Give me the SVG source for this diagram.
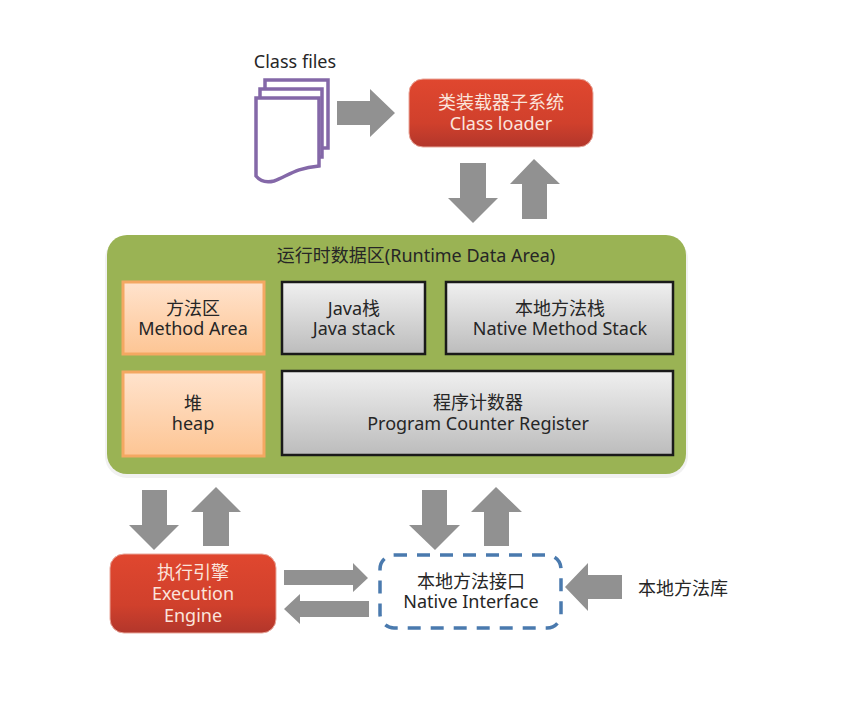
<svg xmlns="http://www.w3.org/2000/svg" width="850" height="714" viewBox="0 0 850 714">
<style>
text{font-family:"Noto Sans","Noto Sans CJK SC",sans-serif;font-size:18px;text-anchor:middle;fill:#262626}
text.w{fill:#fbe4dc}
.arrow{fill:#919191}
.doc{fill:#fff;stroke:#8468a8;stroke-width:3.5}
.red{fill:url(#red);stroke:#e8a79b;stroke-width:1}
.org{fill:url(#org);stroke:#f4a862;stroke-width:3}
.gry{fill:url(#gry);stroke:#1a1a1a;stroke-width:2.5}
</style>
<defs>
<linearGradient id="red" x1="0" y1="0" x2="0" y2="1"><stop offset="0" stop-color="#e0472f"/><stop offset="0.65" stop-color="#d0402c"/><stop offset="1" stop-color="#b2362b"/></linearGradient>
<linearGradient id="org" x1="0" y1="0" x2="0" y2="1"><stop offset="0" stop-color="#ffe3cd"/><stop offset="1" stop-color="#fdc594"/></linearGradient>
<linearGradient id="gry" x1="0" y1="0" x2="0" y2="1"><stop offset="0" stop-color="#f0f0f0"/><stop offset="1" stop-color="#bcbcbc"/></linearGradient>
</defs>
<rect width="850" height="714" fill="#fff"/>
<g id="class-files">
<text x="295" y="68">Class files</text>
<path class="doc" d="M265 80H328V148H265Z"/>
<path class="doc" d="M260 89H322V157H260Z"/>
<path class="doc" d="M256 98H319V166C295 168 288 176 274 181C266 183 260 181 256 176Z"/>
</g>
<g id="class-loader">
<rect class="red" x="409" y="79" width="184" height="68" rx="14"/>
<text class="w" y="109"><tspan x="501">类装载器子系统</tspan><tspan x="501" dy="21">Class loader</tspan></text>
</g>
<g id="runtime-data-area">
<rect x="105" y="237" width="583" height="241" rx="22" fill="#f1f1f1"/>
<rect x="107" y="235" width="579" height="239" rx="20" fill="#9ab354"/>
<text x="416" y="262">运行时数据区(Runtime Data Area)</text>
</g>
<g id="method-area">
<rect class="org" x="123" y="282" width="141" height="72"/>
<text y="315"><tspan x="193">方法区</tspan><tspan x="193" dy="20">Method Area</tspan></text>
</g>
<g id="heap">
<rect class="org" x="123" y="372" width="141" height="84"/>
<text y="410"><tspan x="193">堆</tspan><tspan x="193" dy="20">heap</tspan></text>
</g>
<g id="java-stack">
<rect class="gry" x="282" y="282" width="143" height="72"/>
<text y="315"><tspan x="354">Java栈</tspan><tspan x="354" dy="20">Java stack</tspan></text>
</g>
<g id="native-method-stack">
<rect class="gry" x="446" y="282" width="227" height="72"/>
<text y="315"><tspan x="560">本地方法栈</tspan><tspan x="560" dy="20">Native Method Stack</tspan></text>
</g>
<g id="program-counter">
<rect class="gry" x="282" y="371" width="391" height="84"/>
<text y="409"><tspan x="478">程序计数器</tspan><tspan x="478" dy="21">Program Counter Register</tspan></text>
</g>
<g id="execution-engine">
<rect class="red" x="110" y="554" width="166" height="79" rx="14"/>
<text class="w" y="579"><tspan x="193">执行引擎</tspan><tspan x="193" dy="21">Execution</tspan><tspan x="193" dy="22">Engine</tspan></text>
</g>
<g id="native-interface">
<rect x="380" y="555" width="181" height="73" rx="14" fill="#fff" stroke="#4a7aae" stroke-width="3.5" stroke-dasharray="13 10"/>
<text y="588"><tspan x="471">本地方法接口</tspan><tspan x="471" dy="20">Native Interface</tspan></text>
</g>
<g id="native-library">
<text x="683" y="595">本地方法库</text>
</g>
<g id="connectors">
<path class="arrow" d="M337 101H370V89L395 113L370 137V125H337Z"/>
<path class="arrow" d="M460 163H486V198H498L473 223L448 198H460Z"/>
<path class="arrow" d="M522 219H547V184H560L534 159L510 184H522Z"/>
<path class="arrow" d="M142 490H167V525H179L154 550L129 525H142Z"/>
<path class="arrow" d="M203 546H229V512H241L216 487L191 512H203Z"/>
<path class="arrow" d="M422 490H447V525H460L435 550L409 525H422Z"/>
<path class="arrow" d="M484 546H509V512H522L496 487L471 512H484Z"/>
<path class="arrow" d="M284 570H353V563L368 578L353 592V585H284Z"/>
<path class="arrow" d="M369 601H300V594L284 609L300 624V617H369Z"/>
<path class="arrow" d="M622 575H588V563L565 587L588 611V599H622Z"/>
</g>
</svg>
